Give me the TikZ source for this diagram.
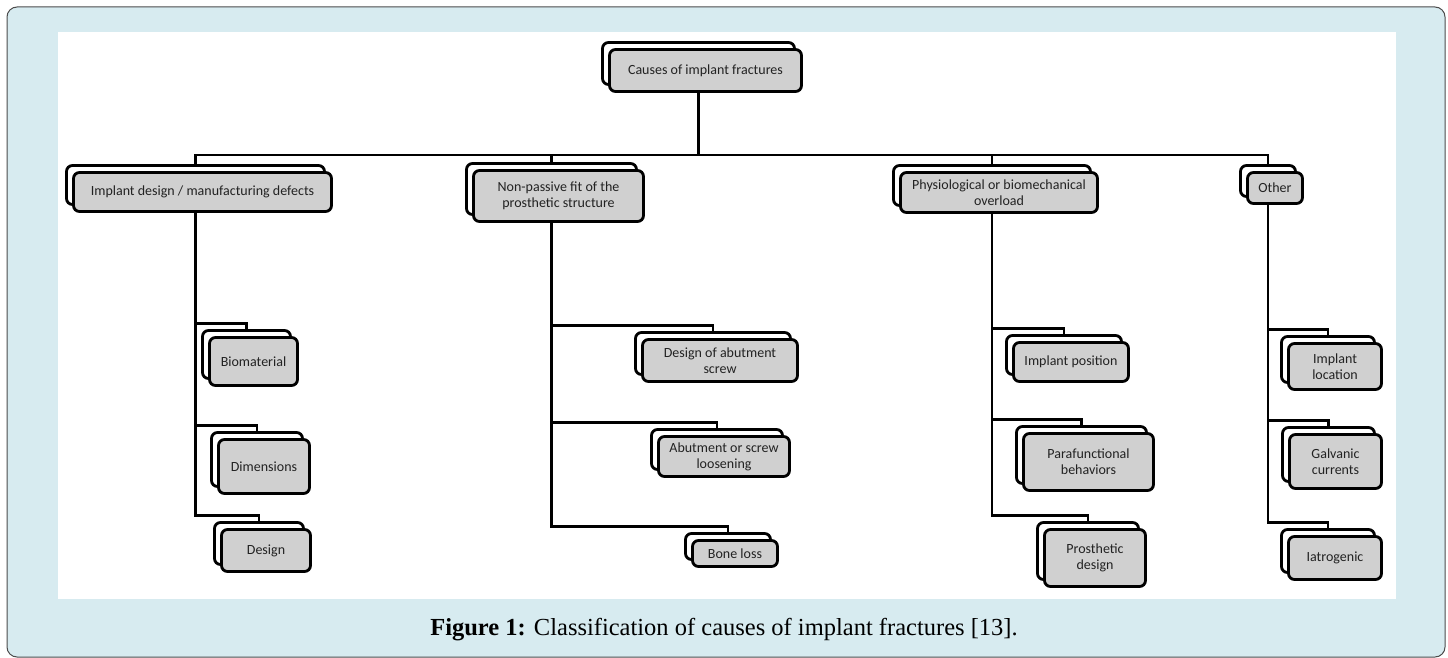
\documentclass[tikz,border=0pt]{standalone}
\usepackage{fontspec}
\newfontfamily\boxfont{Carlito}
\newfontfamily\capfont{Liberation Serif}
\usetikzlibrary{shadows}
\definecolor{framefill}{HTML}{D7EBF0}
\definecolor{boxgray}{HTML}{D0D0D0}
\definecolor{textdark}{HTML}{222222}

\tikzset{
    cause/.style={rectangle, draw, rounded corners=6pt, line width=2.8pt,
        fill=boxgray, align=center, inner sep=2pt, text=textdark,
        font=\boxfont\fontsize{14}{16}\selectfont,
        copy shadow={shadow xshift=-7pt, shadow yshift=7pt, fill=white,
            draw=black, line width=2.8pt}},
    link/.style={line width=2.8pt}
}

\begin{document}
\begin{tikzpicture}[x=1pt,y=-1pt]
    \useasboundingbox (0,0) rectangle (1448,658);
    % frame and white panel
    \draw[draw=black!70, fill=framefill, rounded corners=10pt, line width=1pt] (7,7) rectangle (1445,657);
    \fill[white] (58,32) rectangle (1396,599);

    % Top node
    \node[cause, minimum width=192pt, minimum height=42pt] (root) at (705.5,70.5) {Causes of implant fractures};

    % Main causes
    \node[cause, minimum width=258pt, minimum height=39pt] (A) at (202.5,192) {Implant design / manufacturing defects};
    \node[cause, minimum width=170pt, minimum height=51pt] (B) at (558.5,196) {Non-passive fit of the\\prosthetic structure};
    \node[cause, minimum width=197pt, minimum height=40pt] (C) at (999,192.5) {Physiological or biomechanical\\overload};
    \node[cause, minimum width=55pt, minimum height=31pt] (D) at (1275,188) {Other};

    % Sub causes
    \node[cause, minimum width=88pt, minimum height=48pt] (A1) at (253.5,361.5) {Biomaterial};
    \node[cause, minimum width=91pt, minimum height=54pt] (A2) at (264,466.5) {Dimensions};
    \node[cause, minimum width=89pt, minimum height=42pt] (A3) at (266,550.5) {Design};

    \node[cause, minimum width=155pt, minimum height=42pt] (B1) at (720,360.5) {Design of abutment\\screw};
    \node[cause, minimum width=131pt, minimum height=40pt] (B2) at (724,456.5) {Abutment or screw\\loosening};
    \node[cause, minimum width=85pt, minimum height=26pt] (B3) at (735,553.5) {Bone loss};

    \node[cause, minimum width=115pt, minimum height=39pt] (C1) at (1071,362) {Implant position};
    \node[cause, minimum width=130pt, minimum height=57pt] (C2) at (1088.5,462) {Parafunctional\\behaviors};
    \node[cause, minimum width=101pt, minimum height=57pt] (C3) at (1095,558) {Prosthetic\\design};

    \node[cause, minimum width=93pt, minimum height=46pt] (D1) at (1335,366.5) {Implant\\location};
    \node[cause, minimum width=92pt, minimum height=54pt] (D2) at (1335.5,461.5) {Galvanic\\currents};
    \node[cause, minimum width=93pt, minimum height=43pt] (D3) at (1335,558) {Iatrogenic};

    % Connections
    \coordinate (bus) at (699,155);
    \draw[link] ([xshift=-7pt]root.south) -- ([xshift=-7pt]root.south |- bus);
    \draw[link] ([xshift=-7pt,yshift=7pt]A.north) |- (bus) -| ([xshift=-7pt,yshift=7pt]D.north);
    \draw[link] ([xshift=-7pt,yshift=7pt]B.north) -- ([xshift=-7pt]B.north |- bus);
    \draw[link] ([xshift=-7pt,yshift=7pt]C.north) -- ([xshift=-7pt]C.north |- bus);

    \draw[link] ([xshift=-7pt]A.south) |- ([xshift=-7pt,yshift=13pt]A1.north) -- ([xshift=-7pt,yshift=7pt]A1.north);
    \draw[link] ([xshift=-7pt]A.south) |- ([xshift=-7pt,yshift=13pt]A2.north) -- ([xshift=-7pt,yshift=7pt]A2.north);
    \draw[link] ([xshift=-7pt]A.south) |- ([xshift=-7pt,yshift=13pt]A3.north) -- ([xshift=-7pt,yshift=7pt]A3.north);

    \draw[link] ([xshift=-7pt]B.south) |- ([xshift=-7pt,yshift=13pt]B1.north) -- ([xshift=-7pt,yshift=7pt]B1.north);
    \draw[link] ([xshift=-7pt]B.south) |- ([xshift=-7pt,yshift=13pt]B2.north) -- ([xshift=-7pt,yshift=7pt]B2.north);
    \draw[link] ([xshift=-7pt]B.south) |- ([xshift=-7pt,yshift=13pt]B3.north) -- ([xshift=-7pt,yshift=7pt]B3.north);

    \draw[link] ([xshift=-7pt]C.south) |- ([xshift=-7pt,yshift=13pt]C1.north) -- ([xshift=-7pt,yshift=7pt]C1.north);
    \draw[link] ([xshift=-7pt]C.south) |- ([xshift=-7pt,yshift=13pt]C2.north) -- ([xshift=-7pt,yshift=7pt]C2.north);
    \draw[link] ([xshift=-7pt]C.south) |- ([xshift=-7pt,yshift=13pt]C3.north) -- ([xshift=-7pt,yshift=7pt]C3.north);

    \draw[link] ([xshift=-7pt]D.south) |- ([xshift=-7pt,yshift=13pt]D1.north) -- ([xshift=-7pt,yshift=7pt]D1.north);
    \draw[link] ([xshift=-7pt]D.south) |- ([xshift=-7pt,yshift=13pt]D2.north) -- ([xshift=-7pt,yshift=7pt]D2.north);
    \draw[link] ([xshift=-7pt]D.south) |- ([xshift=-7pt,yshift=13pt]D3.north) -- ([xshift=-7pt,yshift=7pt]D3.north);

    % Caption
    \node[font=\capfont\fontsize{24.5}{28}\selectfont] (caption) at (724,630) {\textbf{Figure 1:} Classification of causes of implant fractures [13].};
\end{tikzpicture}
\end{document}
